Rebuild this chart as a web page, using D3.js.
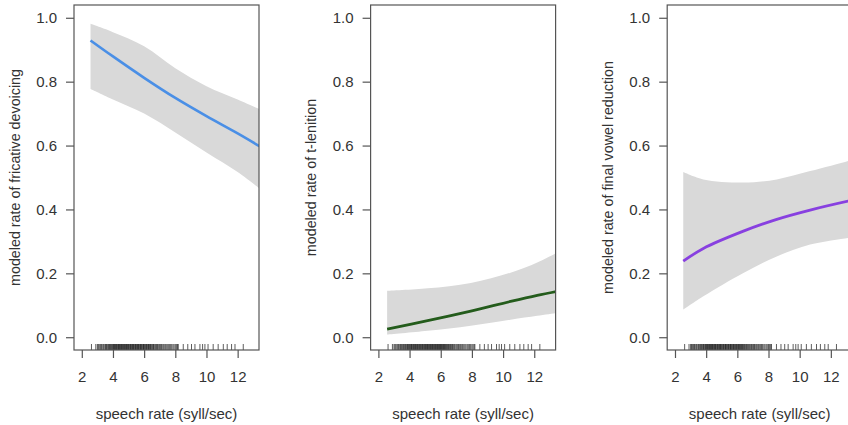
<!DOCTYPE html>
<html>
<head>
<meta charset="utf-8">
<script src="https://cdn.jsdelivr.net/npm/d3@7"></script>
<style>
  body { margin: 0; background: #fff; }
  svg { display: block; font-family: "Liberation Sans", Arial, sans-serif; }
</style>
</head>
<body>
<svg width="848" height="425"></svg>
<script>
// speech rate values for each panel
var devoicingRate = [2.56, 4, 6, 8, 10, 12, 13.4];
var devoicingFit = [0.929, 0.879, 0.812, 0.749, 0.692, 0.638, 0.598];
var devoicingUpper = [0.981, 0.955, 0.911, 0.842, 0.786, 0.744, 0.714];
var devoicingLower = [0.777, 0.744, 0.700, 0.641, 0.578, 0.517, 0.466];

var lenitionRate = [2.56, 5.16, 7.93, 10.48, 12.19, 13.4];
var lenitionFit = [0.025, 0.052, 0.082, 0.112, 0.131, 0.143];
var lenitionUpper = [0.145, 0.153, 0.17, 0.202, 0.234, 0.263];
var lenitionLower = [0.008, 0.02, 0.036, 0.055, 0.067, 0.076];

var reductionRate = [2.53, 3.82, 6.39, 8.53, 10.67, 13.11, 13.4];
var reductionFit = [0.238, 0.278, 0.332, 0.369, 0.398, 0.426, 0.429];
var reductionUpper = [0.517, 0.494, 0.484, 0.494, 0.52, 0.552, 0.557];
var reductionLower = [0.086, 0.128, 0.201, 0.253, 0.29, 0.311, 0.313];

// observed speech rates (rug)
var rugRates = [2.62, 2.9, 3.0, 3.06, 3.12, 3.19, 3.25, 3.3, 3.37, 3.42, 3.49, 3.53, 3.59, 3.63,
  3.69, 3.73, 3.78, 3.83, 3.87, 3.92, 3.96, 4.01, 4.04, 4.09, 4.12, 4.16, 4.21, 4.24, 4.28,
  4.33, 4.36, 4.4, 4.43, 4.48, 4.52, 4.55, 4.6, 4.63, 4.68, 4.72, 4.75, 4.8, 4.84, 4.87,
  4.92, 4.95, 5.0, 5.03, 5.08, 5.12, 5.15, 5.2, 5.24, 5.27, 5.32, 5.35, 5.4, 5.44, 5.47,
  5.52, 5.56, 5.59, 5.64, 5.67, 5.72, 5.76, 5.79, 5.84, 5.87, 5.92, 5.96, 5.99, 6.04,
  6.07, 6.12, 6.16, 6.19, 6.24, 6.28, 6.32, 6.36, 6.41, 6.45, 6.5, 6.55, 6.6, 6.64, 6.7,
  6.75, 6.8, 6.86, 6.91, 6.98, 7.04, 7.1, 7.15, 7.22, 7.28, 7.35, 7.41, 7.48, 7.55, 7.62,
  7.7, 7.77, 7.85, 7.92, 8.0, 8.07, 8.14, 8.19, 8.51, 8.8, 9.04, 9.26, 9.58, 9.75, 9.9,
  10.1, 10.43, 10.75, 11.08, 11.33, 11.61, 11.83, 12.36];

var xTicks = [2, 4, 6, 8, 10, 12];
var yTicks = [0, 0.2, 0.4, 0.6, 0.8, 1.0];

var panels = [
  {label: "modeled rate of fricative devoicing", color: "#4a8fe6", width: 2.6,
   rate: devoicingRate, fit: devoicingFit, upper: devoicingUpper, lower: devoicingLower},
  {label: "modeled rate of t-lenition", color: "#245c1c", width: 2.8,
   rate: lenitionRate, fit: lenitionFit, upper: lenitionUpper, lower: lenitionLower},
  {label: "modeled rate of final vowel reduction", color: "#8840e0", width: 2.8,
   rate: reductionRate, fit: reductionFit, upper: reductionUpper, lower: reductionLower}
];

var svg = d3.select("svg");
var boxW = 185, boxTop = 5, boxBottom = 350;
var smooth = d3.curveCatmullRom.alpha(0.5);

panels.forEach(function(p, i) {
  var left = 74 + 296.6 * i;
  var x = d3.scaleLinear().domain([1.5, 13.37]).range([left, left + boxW]);
  var y = d3.scaleLinear().domain([-0.04, 1.04]).range([boxBottom, boxTop]);
  var g = svg.append("g");

  var clipId = "clip" + i;
  svg.append("clipPath").attr("id", clipId)
    .append("rect").attr("x", left).attr("y", boxTop).attr("width", boxW).attr("height", boxBottom - boxTop);

  var rows = p.rate.map(function(r, k) {
    return {x: r, fit: p.fit[k], hi: p.upper[k], lo: p.lower[k]};
  });

  var band = d3.area()
      .x(function(d) { return x(d.x); })
      .y0(function(d) { return y(d.lo); })
      .y1(function(d) { return y(d.hi); })
      .curve(smooth);
  var line = d3.line()
      .x(function(d) { return x(d.x); })
      .y(function(d) { return y(d.fit); })
      .curve(smooth);

  var inner = g.append("g").attr("clip-path", "url(#" + clipId + ")");
  inner.append("path").datum(rows).attr("d", band).attr("fill", "#d9d9d9");
  inner.append("path").datum(rows).attr("d", line)
    .attr("fill", "none").attr("stroke", p.color).attr("stroke-width", p.width);

  // rug
  inner.selectAll(".rug").data(rugRates).enter().append("line")
    .attr("x1", function(d) { return x(d); }).attr("x2", function(d) { return x(d); })
    .attr("y1", y.range()[0]).attr("y2", y.range()[0] - 6)
    .attr("stroke", "#000").attr("stroke-width", 0.8).attr("stroke-opacity", 0.8);

  // box
  g.append("rect").attr("x", left).attr("y", boxTop).attr("width", boxW).attr("height", boxBottom - boxTop)
    .attr("fill", "none").attr("stroke", "#555").attr("stroke-width", 1.2);

  // axes
  var xAxis = g.append("g").attr("transform", "translate(0," + boxBottom + ")")
    .call(d3.axisBottom(x).tickValues(xTicks).tickSize(8).tickPadding(13).tickFormat(d3.format("d")));
  var yAxis = g.append("g").attr("transform", "translate(" + left + ",0)")
    .call(d3.axisLeft(y).tickValues(yTicks).tickSize(8).tickPadding(9).tickFormat(d3.format(".1f")));
  [xAxis, yAxis].forEach(function(a) {
    a.select(".domain").remove();
    a.selectAll(".tick line").attr("stroke", "#555").attr("stroke-width", 1.2);
    a.selectAll(".tick text").attr("fill", "#333").style("font-size", "15px")
      .style("font-family", "'Liberation Sans', Arial, sans-serif");
  });

  g.append("text")
    .attr("x", left + boxW / 2).attr("y", 419)
    .attr("text-anchor", "middle").attr("fill", "#333").style("font-size", "15px")
    .text("speech rate (syll/sec)");

  g.append("text")
    .attr("transform", "translate(" + (left - 54.5) + "," + ((boxTop + boxBottom) / 2) + ") rotate(-90)")
    .attr("text-anchor", "middle").attr("fill", "#333").style("font-size", "14.3px")
    .text(p.label);
});
</script>
</body>
</html>
